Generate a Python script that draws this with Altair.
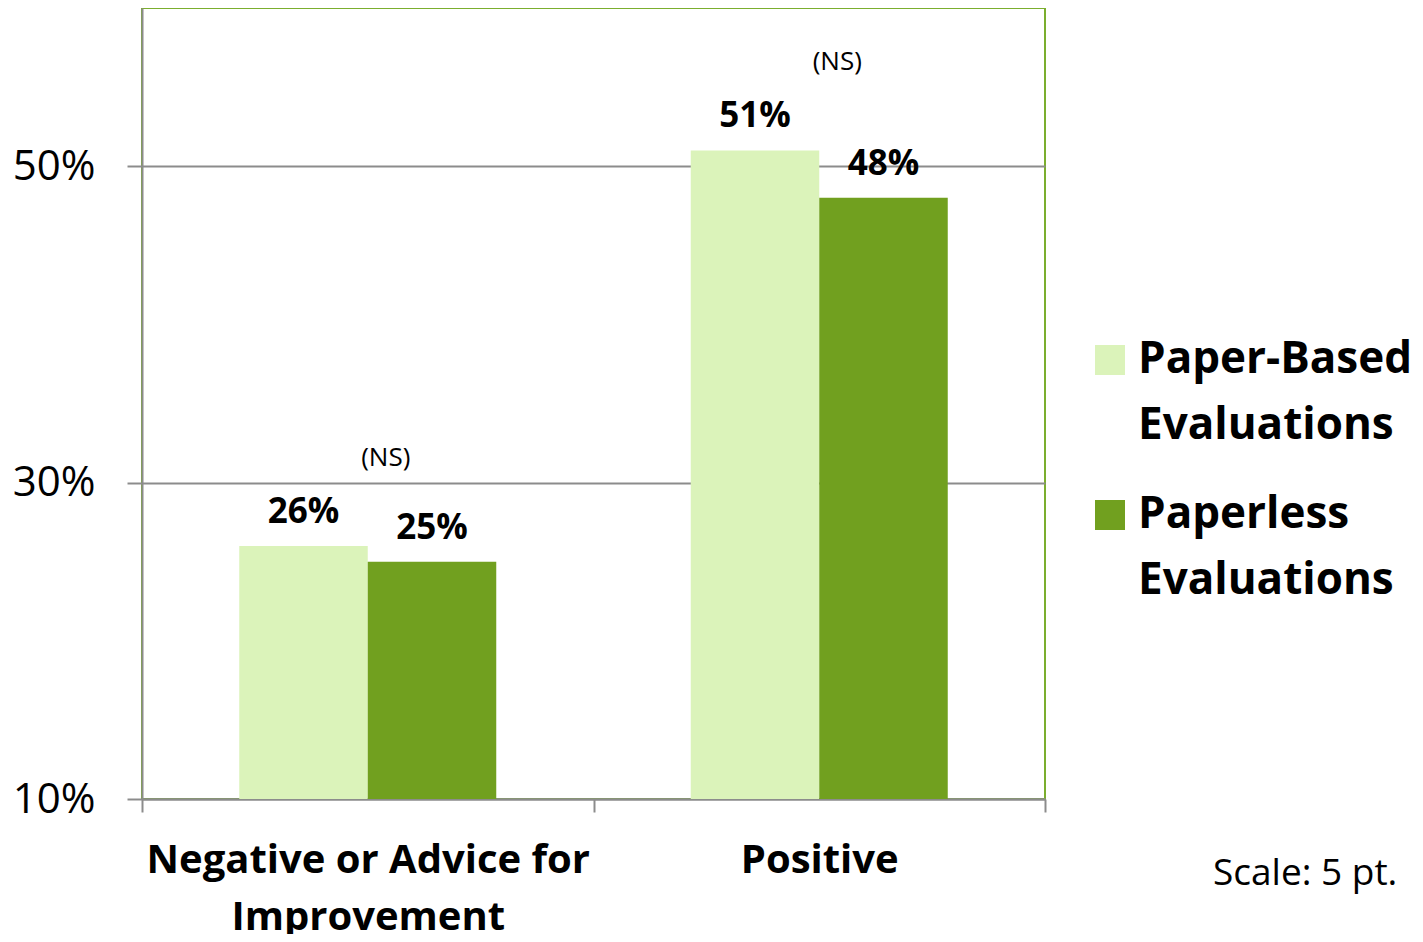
import altair as alt
import pandas as pd

categories = ["Negative or Advice for Improvement", "Positive"]
series = ["Paper-Based Evaluations", "Paperless Evaluations"]
paper_based = [26, 51]
paperless = [25, 48]
ns_labels = ["(NS)", "(NS)"]
y_ticks = [10, 30, 50]
note = "Scale: 5 pt."

colors = ["#DBF3BA", "#71A01F"]
grid_gray = "#8C8C8C"

rows = []
for i, c in enumerate(categories):
    rows.append({"category": c, "series": series[0], "value": paper_based[i], "label": f"{paper_based[i]}%"})
    rows.append({"category": c, "series": series[1], "value": paperless[i], "label": f"{paperless[i]}%"})
df = pd.DataFrame(rows)

ns_df = pd.DataFrame({
    "category": categories,
    "top": [max(a, b) for a, b in zip(paper_based, paperless)],
    "ns": ns_labels,
})

x_enc = alt.X(
    "category:N",
    sort=categories,
    title=None,
    scale=alt.Scale(paddingInner=0, paddingOuter=0),
    axis=alt.Axis(
        labelExpr="datum.label == 'Negative or Advice for Improvement' ? ['Negative or Advice for', 'Improvement'] : datum.label",
        labelFont="Open Sans",
        labelFontWeight="bold",
        labelFontSize=40,
        labelColor="#000000",
        labelLineHeight=57,
        labelBaseline="top",
        labelPadding=28,
        labelLimit=1000,
        labelOverlap=False,
        labelAngle=0,
        tickBand="extent",
        tickSize=13,
        tickColor=grid_gray,
        tickWidth=2,
        domainColor=grid_gray,
        domainWidth=2,
        grid=False,
    ),
)

offset_scale = alt.Scale(paddingInner=0, paddingOuter=0.7568)

y_scale = alt.Scale(domain=[10, 60], zero=False, nice=False)

bars = alt.Chart(df).mark_bar().encode(
    x=x_enc,
    xOffset=alt.XOffset("series:N", sort=series, scale=offset_scale),
    y=alt.Y(
        "value:Q",
        scale=y_scale,
        title=None,
        axis=alt.Axis(
            values=y_ticks,
            labelExpr="datum.value + '%'",
            labelFont="Open Sans",
            labelFontSize=42,
            labelColor="#000000",
            labelPadding=32,
            tickSize=15,
            tickColor=grid_gray,
            tickWidth=2,
            domainColor=grid_gray,
            domainWidth=2,
            grid=True,
            gridColor=grid_gray,
            gridWidth=2,
        ),
    ),
    y2=alt.datum(10),
    color=alt.Color(
        "series:N",
        scale=alt.Scale(domain=series, range=colors),
        legend=alt.Legend(
            title=None,
            orient="none",
            legendX=946,
            legendY=330,
            symbolType="square",
            symbolSize=900,
            symbolStrokeWidth=0,
            symbolOpacity=1,
            labelExpr="split(datum.label, ' ')",
            labelFont="Open Sans",
            labelFontWeight="bold",
            labelFontSize=44,
            labelColor="#000000",
            labelOffset=6,
            labelLimit=1000,
            labelBaseline="middle",
            rowPadding=45,
            padding=0,
        ),
    ),
)

value_labels = alt.Chart(df).mark_text(
    font="Open Sans", fontWeight="bold", fontSize=35, baseline="alphabetic", dy=-23, color="#000000"
).encode(
    x=alt.X("category:N", sort=categories),
    xOffset=alt.XOffset("series:N", sort=series, scale=offset_scale),
    y=alt.Y("value:Q", scale=y_scale),
    text="label:N",
)

ns_text = alt.Chart(ns_df).mark_text(
    font="Open Sans", fontSize=26, baseline="alphabetic", dy=-80, dx=18, color="#000000"
).encode(
    x=alt.X("category:N", sort=categories),
    y=alt.Y("top:Q", scale=y_scale),
    text="ns:N",
)

note_text = alt.Chart(pd.DataFrame({"t": [note]})).mark_text(
    font="Open Sans", fontSize=37, align="left", baseline="alphabetic", color="#000000"
).encode(
    x=alt.value(1071),
    y=alt.value(877),
    text="t:N",
)

chart = alt.layer(bars, value_labels, ns_text, note_text).properties(
    width=903,
    height=791,
    autosize=alt.AutoSizeParams(type="none"),
    padding={"left": 134, "top": 0, "right": 370, "bottom": 135},
).configure(
    background="white",
    view=alt.ViewConfig(stroke="#7BAE2E", strokeWidth=2),
    style={"guide-label": {"lineHeight": 66}},
)

chart.save("out.html", embed_options={"renderer": "svg", "actions": False})
